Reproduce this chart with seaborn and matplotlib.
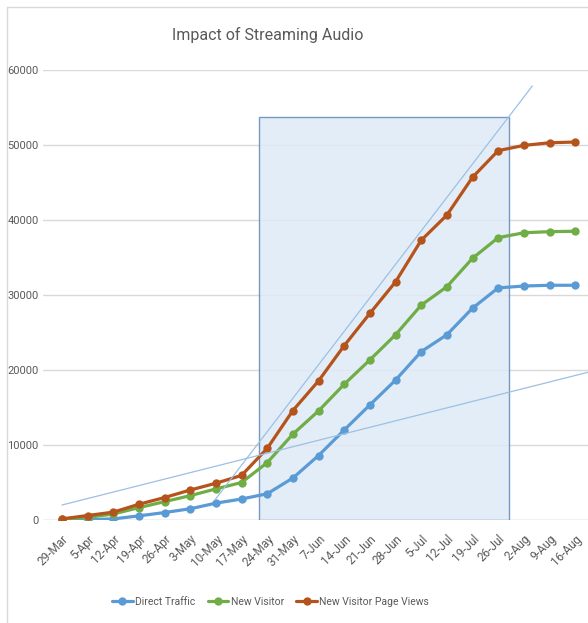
import numpy as np
import pandas as pd
import matplotlib.pyplot as plt
import seaborn as sns
from matplotlib import font_manager
from matplotlib.patches import Rectangle
from matplotlib.lines import Line2D

weeks = ["29-Mar", "5-Apr", "12-Apr", "19-Apr", "26-Apr", "3-May", "10-May",
         "17-May", "24-May", "31-May", "7-Jun", "14-Jun", "21-Jun", "28-Jun",
         "5-Jul", "12-Jul", "19-Jul", "26-Jul", "2-Aug", "9-Aug", "16-Aug"]
direct_traffic = [0, 50, 150, 550, 1000, 1500, 2250, 2800, 3500, 5600, 8600,
                  12000, 15350, 18650, 22450, 24700, 28250, 30950, 31200, 31300, 31300]
new_visitor = [100, 350, 800, 1650, 2450, 3250, 4150, 5000, 7650, 11450, 14550,
               18100, 21350, 24700, 28650, 31100, 34900, 37650, 38300, 38450, 38500]
page_views = [150, 600, 1050, 2100, 3000, 4000, 4900, 5950, 9550, 14600, 18550,
              23250, 27550, 31750, 37300, 40650, 45700, 49250, 49950, 50300, 50400]
series_names = ["Direct Traffic", "New Visitor", "New Visitor Page Views"]

# highlighted period and hand-drawn trend lines (in week-index units)
box_x = (7.69, 17.43)
box_top = 53800
slow_trend = ((0, 2000), (20.5, 19700))
fast_trend = ((5.96, 2670), (18.33, 57870))

df = pd.DataFrame({
    "week": list(range(len(weeks))) * 3,
    "value": direct_traffic + new_visitor + page_views,
    "series": np.repeat(series_names, len(weeks)),
})


def pick_font(candidates):
    # use the narrowest family that is actually installed
    for fam in candidates:
        try:
            font_manager.findfont(fam, fallback_to_default=False)
            return fam
        except ValueError:
            continue
    return "DejaVu Sans"


sns.set_style("white")
family = pick_font(["Liberation Sans Narrow", "DejaVu Sans Condensed", "Roboto"])
plt.rcParams["font.family"] = [family, "DejaVu Sans"]

fig = plt.figure(figsize=(5.88, 6.23), dpi=100)
ax = fig.add_axes([0.073, 0.1653, 0.927, 0.7223])

palette = {"Direct Traffic": "#5B9BD5", "New Visitor": "#70AD47",
           "New Visitor Page Views": "#B5531C"}

ax.add_patch(Rectangle((box_x[0], 0), box_x[1] - box_x[0], box_top,
                       facecolor="#DFEAF6", edgecolor="#5F89B8", lw=1.0,
                       alpha=0.85, zorder=1))

sns.lineplot(data=df, x="week", y="value", hue="series", palette=palette,
             marker="o", markersize=6, markeredgewidth=0, linewidth=2.3,
             ax=ax, zorder=3)

for (x0, y0), (x1, y1) in (slow_trend, fast_trend):
    ax.plot([x0, x1], [y0, y1], color="#9CC0E4", lw=0.9, zorder=4)

ax.set_xlim(-0.74, 20.5)
ax.set_ylim(0, 60000)
ax.set_yticks(range(0, 60001, 10000))
ax.yaxis.grid(True, color="#D9D9D9", lw=1.0)
ax.set_axisbelow(True)
for s in ax.spines.values():
    s.set_visible(False)
ax.axhline(0, color="#D9D9D9", lw=1.0, zorder=0)

ax.set_xticks(range(len(weeks)))
ax.set_xticklabels(weeks, rotation=45, ha="right", rotation_mode="anchor",
                   fontsize=8.5, color="#595959")
ax.tick_params(axis="y", labelsize=8, labelcolor="#595959", length=0, pad=3)
ax.tick_params(axis="x", length=0, pad=9)
ax.set_xlabel("")
ax.set_ylabel("")

fig.text(0.456, 0.944, "Impact of Streaming Audio", ha="center", va="center",
         fontsize=11.5, color="#595959")

handles, labels = ax.get_legend_handles_labels()
ax.legend_.remove()
fig.legend(handles, labels, loc="center", bbox_to_anchor=(0.46, 0.034),
           ncol=3, frameon=False, fontsize=7.5, labelcolor="#595959",
           handlelength=2.0, handletextpad=0.2, columnspacing=1.2)

# chart border (top and left visible in the screenshot)
fig.add_artist(Line2D([7 / 588, 1], [1 - 7 / 623] * 2, color="#D9D9D9", lw=1.0))
fig.add_artist(Line2D([7 / 588] * 2, [0, 1 - 7 / 623], color="#D9D9D9", lw=1.0))

fig.savefig("out.png", dpi=100)
